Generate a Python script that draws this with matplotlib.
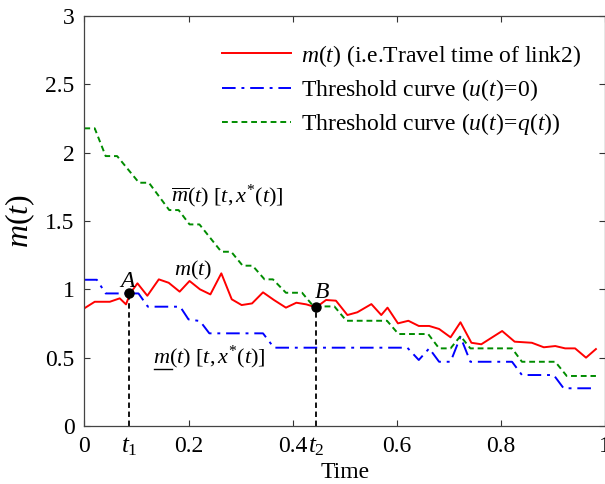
import matplotlib
matplotlib.use("Agg")
import matplotlib.pyplot as plt
import matplotlib.transforms as mtransforms

plt.rcParams['font.family'] = ['Liberation Serif', 'DejaVu Serif']
plt.rcParams['mathtext.fontset'] = 'custom'
plt.rcParams['mathtext.rm'] = 'Liberation Serif'
plt.rcParams['mathtext.it'] = 'Liberation Serif:italic'
plt.rcParams['mathtext.bf'] = 'Liberation Serif:bold'

# m(t), travel time of link 2
t_m = [0.0, 0.02, 0.049, 0.068, 0.08, 0.088, 0.102, 0.121, 0.143, 0.162,
       0.183, 0.202, 0.222, 0.242, 0.263, 0.283, 0.302, 0.322, 0.343, 0.364,
       0.387, 0.407, 0.426, 0.445, 0.464, 0.483, 0.505, 0.524, 0.551, 0.570,
       0.582, 0.602, 0.622, 0.642, 0.662, 0.681, 0.703, 0.722, 0.743, 0.762,
       0.783, 0.802, 0.826, 0.859, 0.882, 0.904, 0.923, 0.942, 0.963, 0.982]
m_vals = [0.861, 0.909, 0.909, 0.934, 0.89, 0.97, 1.044, 0.953, 1.073, 1.048,
          0.983, 1.061, 1.0, 0.963, 1.117, 0.927, 0.885, 0.897, 0.978, 0.922,
          0.866, 0.902, 0.89, 0.868, 0.922, 0.917, 0.812, 0.832, 0.892, 0.812,
          0.866, 0.751, 0.770, 0.732, 0.732, 0.710, 0.649, 0.759, 0.609, 0.598,
          0.649, 0.695, 0.617, 0.609, 0.576, 0.585, 0.568, 0.568, 0.5, 0.563]

# threshold curve u(t)=0
t_low = [0, 0.024, 0.041, 0.104, 0.122, 0.184, 0.2, 0.222, 0.24, 0.343,
         0.364, 0.62, 0.642, 0.662, 0.681, 0.703, 0.722, 0.741, 0.821, 0.84,
         0.901, 0.92, 0.982]
low_vals = [1.07, 1.07, 0.97, 0.97, 0.873, 0.873, 0.78, 0.768, 0.678, 0.678,
            0.573, 0.573, 0.483, 0.568, 0.47, 0.47, 0.653, 0.47, 0.47, 0.373,
            0.373, 0.276, 0.276]

# threshold curve u(t)=q(t)
t_up = [0, 0.02, 0.041, 0.063, 0.105, 0.124, 0.163, 0.181, 0.202, 0.221,
        0.263, 0.282, 0.304, 0.323, 0.346, 0.362, 0.387, 0.418, 0.44, 0.48,
        0.503, 0.581, 0.603, 0.66, 0.681, 0.703, 0.722, 0.741, 0.821, 0.84,
        0.904, 0.926, 0.982]
up_vals = [2.178, 2.178, 1.975, 1.975, 1.78, 1.78, 1.58, 1.58, 1.475, 1.475,
           1.275, 1.275, 1.173, 1.173, 1.073, 1.073, 0.975, 0.975, 0.875, 0.875,
           0.77, 0.77, 0.673, 0.673, 0.568, 0.568, 0.658, 0.568, 0.568, 0.47,
           0.47, 0.366, 0.366]

# switching points
pt_t = [0.086, 0.445]
pt_m = [0.97, 0.868]
pt_names = ['A', 'B']
pt_ticks = [r'$t_{\mathit{1}}$', r'$t_{\mathit{2}}$']

fig = plt.figure(figsize=(6.05, 4.84), dpi=100)
ax = fig.add_axes([84.3 / 605, 58 / 484, 521 / 605, 410 / 484])

ax.plot(t_m, m_vals, color='red', lw=1.4,
        label=r'$m(t)$ (i.e.Travel time of link2)')
ax.plot(t_low, low_vals, color='blue', lw=1.4, dashes=(7, 3, 1.5, 3),
        label=r'Threshold curve $(u(t)\!=\!\mathit{0})$')
ax.plot(t_up, up_vals, color=(0.0, 0.55, 0.0), lw=1.4, dashes=(3, 2),
        label=r'Threshold curve $(u(t)\!=\!q(t))$')

for t, m in zip(pt_t, pt_m):
    ax.plot([t, t], [0, m], color='black', lw=1.3, dashes=(3, 2))
ax.plot(pt_t, pt_m, 'o', color='black', ms=6.5)

ax.text(pt_t[0] - 0.004, pt_m[0] + 0.01, pt_names[0], fontsize=17,
        style='italic', ha='center', va='bottom')
ax.text(pt_t[1] + 0.012, pt_m[1] + 0.03, pt_names[1], fontsize=17,
        style='italic', ha='center', va='bottom')

trans = mtransforms.blended_transform_factory(ax.transData, ax.transAxes)
for t, lab in zip(pt_t, pt_ticks):
    ax.text(t, -0.022, lab, transform=trans, fontsize=18,
            ha='center', va='top')

ax.text(0.209, 1.14, r'$m(t)$', fontsize=16, ha='center', va='center')
ax.text(0.167, 1.68, r'$\overline{m}(t)\ [t,x^{*}(t)]$', fontsize=16,
        ha='left', va='center')
ax.text(0.131, 0.50, r'$m(t)\ [t,x^{*}(t)]$', fontsize=16,
        ha='left', va='center')
ax.plot([0.134, 0.168], [0.415, 0.415], color='black', lw=1.0)

ax.set_xlim(0, 1)
ax.set_ylim(0, 3)
ax.set_xticks([0, 0.2, 0.4, 0.6, 0.8, 1])
ax.set_xticklabels(['0', '0.2', '0.4', '0.6', '0.8', '1'])
ax.set_yticks([0, 0.5, 1, 1.5, 2, 2.5, 3])
ax.set_yticklabels(['0', '0.5', '1', '1.5', '2', '2.5', '3'])
ax.tick_params(direction='in', top=True, right=True, length=4,
               labelsize=17, pad=7, color='#333333')
for s in ax.spines.values():
    s.set_color('#444444')
    s.set_linewidth(0.9)

ax.set_xlabel('Time', fontsize=17, labelpad=4)
ax.set_ylabel(r'$m(t)$', fontsize=23, labelpad=6)

ax.legend(loc='upper left', bbox_to_anchor=(0.265, 0.935), frameon=False,
          fontsize=17, handlelength=2.9, handletextpad=0.42, labelspacing=0.35,
          borderpad=0, borderaxespad=0)

fig.savefig('out.png', dpi=100)
